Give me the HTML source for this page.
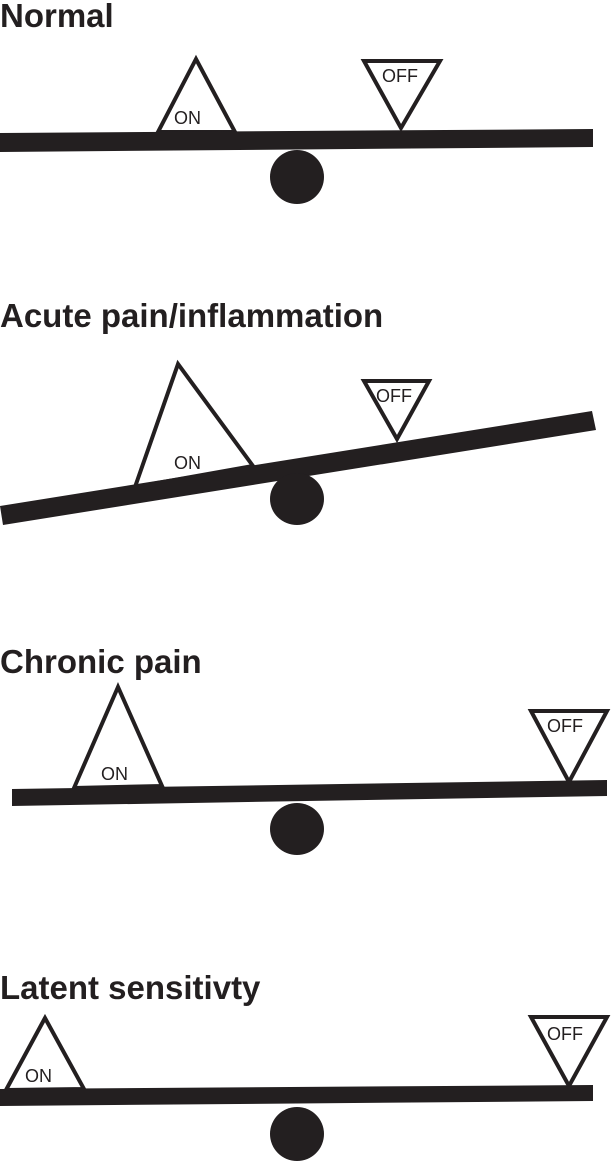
<!DOCTYPE html>
<html><head><meta charset="utf-8"><style>
html,body{margin:0;padding:0;background:#fff;}
svg{display:block;}
.t{font-family:"Liberation Sans",Arial,sans-serif;font-weight:bold;font-size:33px;fill:#231f20;}
.l{font-family:"Liberation Sans",Arial,sans-serif;font-size:18px;fill:#231f20;}
</style></head><body>
<svg width="611" height="1162" viewBox="0 0 611 1162" xmlns="http://www.w3.org/2000/svg">
<g fill="none" stroke="#231f20" stroke-width="4" stroke-linejoin="miter">
<polygon points="196,59 158,132 235,132"/>
<polygon points="364,61 440,61 401,128"/>
<polygon points="178,364 135,487 253,466"/>
<polygon points="364,381 429,381 397,439"/>
<polygon points="118,687 74,788 162,786"/>
<polygon points="531,711 607,711 569,782"/>
<polygon points="45,1018 6,1090 84,1089"/>
<polygon points="531,1017 607,1017 569,1086"/>
</g>
<g fill="#231f20">
<polygon points="0,133 593,129 593,147 0,152"/>
<ellipse cx="297" cy="177" rx="27" ry="27"/>
<polygon points="0,506 592,411 596,430 3,525"/>
<ellipse cx="297" cy="499" rx="27" ry="26"/>
<polygon points="12,789 607,780 607,796 12,806"/>
<ellipse cx="297" cy="829" rx="27" ry="26"/>
<polygon points="0,1089 593,1085 593,1101 0,1106"/>
<ellipse cx="297" cy="1134" rx="27" ry="27"/>
</g>
<text class="t" x="0" y="27">Normal</text>
<text class="t" x="0" y="327">Acute pain/inflammation</text>
<text class="t" x="0" y="673">Chronic pain</text>
<text class="t" x="0" y="999">Latent sensitivty</text>
<text class="l" x="174" y="124">ON</text>
<text class="l" x="382" y="82">OFF</text>
<text class="l" x="174" y="469">ON</text>
<text class="l" x="376" y="402">OFF</text>
<text class="l" x="101" y="780">ON</text>
<text class="l" x="547" y="732">OFF</text>
<text class="l" x="25" y="1082">ON</text>
<text class="l" x="547" y="1040">OFF</text>
</svg>
</body></html>
